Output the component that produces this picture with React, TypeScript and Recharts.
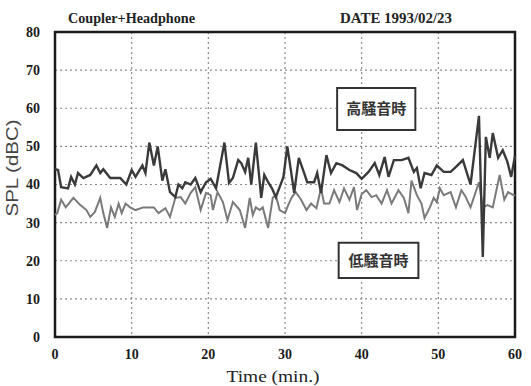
import React from 'react';
import { LineChart, Line, XAxis, YAxis, CartesianGrid, ReferenceArea } from 'recharts';

// High-noise condition (dark line): time (min) and SPL (dBC)
const highTime = [0, 0.4, 0.8, 1.7, 2.1, 2.6, 3.0, 3.7, 4.6, 5.4, 5.9, 6.3, 7.2, 8.5, 9.3, 10.0, 10.5, 11.4, 11.8, 12.3, 12.9, 13.4, 14.0, 14.4, 15.0, 15.7, 16.1, 16.6, 17.0, 17.7, 18.3, 19.0, 19.7, 20.3, 21.0, 22.1, 22.7, 23.2, 23.9, 24.3, 24.8, 25.2, 25.6, 26.2, 26.9, 27.3, 27.8, 28.3, 28.8, 29.3, 29.8, 30.3, 30.6, 31.2, 31.8, 32.5, 32.9, 33.8, 34.2, 34.7, 35.4, 36.0, 36.7, 37.5, 38.4, 39.3, 40.0, 40.9, 41.7, 42.3, 43.0, 43.5, 44.2, 45.2, 46.1, 46.8, 47.2, 47.7, 48.2, 49.1, 49.8, 50.7, 51.6, 52.3, 53.2, 54.2, 55.3, 55.8, 56.2, 56.7, 57.1, 57.8, 58.4, 59.0, 59.5, 60.0];
const highSpl = [44, 43.8, 39.3, 39, 42, 40, 43, 41.7, 42.5, 45, 43, 44, 41.7, 41.7, 40, 43.8, 42, 45, 43, 51, 45, 50, 41, 44, 38, 36.7, 40, 39, 40.6, 40, 41.7, 38, 40.6, 41.5, 39, 51, 40.4, 41.7, 46.4, 45.6, 43.3, 47, 40, 51, 36.5, 42.5, 40.6, 39, 36.7, 39.3, 42, 50, 46, 37.8, 47, 43, 40.6, 40.6, 43, 37.8, 47.7, 43, 45.6, 45, 43.8, 43, 41.5, 43.3, 45.6, 42.5, 47.2, 42, 46.4, 46.4, 47, 43.3, 44.3, 39, 43, 42.5, 45, 43.3, 43.3, 44.6, 46.4, 40, 58, 21, 52.5, 47, 53.5, 47, 49, 46, 42, 47.5];

// Low-noise condition (grey line)
const lowTime = [0, 0.3, 0.8, 1.4, 2.4, 3.3, 4.1, 4.6, 5.2, 5.9, 6.3, 6.8, 7.3, 7.8, 8.3, 8.7, 9.2, 9.8, 10.5, 11.5, 12.9, 13.5, 14.4, 15.0, 15.7, 16.4, 17.0, 17.7, 18.3, 19.0, 19.7, 20.3, 20.6, 21.2, 21.9, 22.5, 23.2, 24.1, 24.8, 25.4, 25.8, 26.2, 26.7, 27.1, 27.8, 28.4, 28.8, 29.3, 30.0, 30.5, 30.9, 31.4, 32.1, 32.8, 33.4, 34.1, 34.7, 35.1, 35.8, 36.4, 37.1, 37.7, 38.4, 39.0, 39.4, 40.0, 40.6, 41.3, 41.9, 42.6, 43.3, 43.9, 44.8, 45.5, 46.1, 46.5, 47.2, 47.8, 48.2, 48.9, 49.4, 49.8, 50.2, 50.7, 51.6, 52.3, 53.0, 53.5, 54.2, 55.3, 55.8, 56.4, 57.1, 58.0, 58.6, 59.1, 60.0];
const lowSpl = [32, 32.5, 36, 34, 36.5, 34.6, 33.3, 31.5, 32.8, 36.5, 32.5, 28.6, 34, 31.5, 35, 32.5, 35, 34, 33.3, 34, 34, 32.5, 33.8, 31.5, 36.5, 36.7, 35, 37.8, 39.3, 33.3, 37.8, 37.2, 33.3, 38, 35.4, 30.7, 35.4, 33.3, 28.6, 36.5, 32, 34, 33.3, 34, 28.6, 36.5, 37.2, 33.3, 32.5, 35, 36.7, 38, 36, 33.3, 35, 33.8, 39, 35, 35, 38.5, 35.4, 39, 36, 39.3, 33.3, 37.5, 38.5, 36.7, 37.2, 35, 38.5, 35, 38.5, 36.5, 32.5, 41, 37.2, 35, 31.2, 34, 36.5, 35.4, 39, 37.2, 38, 34, 38.5, 37, 34, 40.6, 34, 34.6, 34, 42.5, 36, 38, 37];

const xTicks = [0, 10, 20, 30, 40, 50, 60];
const yTicks = [0, 10, 20, 30, 40, 50, 60, 70, 80];
const gridX = [10, 20, 30, 40, 50];
const gridY = [10, 20, 30, 40, 50, 60, 70];

const titleLeft = 'Coupler+Headphone';
const titleRight = 'DATE 1993/02/23';
const xLabel = 'Time (min.)';
const yLabel = 'SPL (dBC)';
const highLabel = '高騒音時';
const lowLabel = '低騒音時';
// annotation boxes in data units: [x1, x2, y1, y2]
const highBox = [36.8, 47.0, 54.3, 65.3];
const lowBox = [37.0, 47.4, 15.5, 24.7];

const highData = highTime.map((t, i) => ({ t, spl: highSpl[i] }));
const lowData = lowTime.map((t, i) => ({ t, spl: lowSpl[i] }));

const serif = '"Liberation Serif", "DejaVu Serif", serif';
const cjk = '"Noto Sans CJK JP", "Noto Sans CJK SC", sans-serif';

export default function App() {
  return (
    <div style={{ position: 'absolute', left: 0, top: 0, width: 531, height: 386, background: '#fff' }}>
      <LineChart width={531} height={386} data={highData} margin={{ top: 32, right: 16, bottom: 0, left: 0 }}>
        <CartesianGrid
          stroke="#8a8a8a"
          strokeDasharray="2 3"
          strokeWidth={1.2}
          horizontalValues={gridY}
          verticalValues={gridX}
        />
        <XAxis
          dataKey="t"
          type="number"
          domain={[0, 60]}
          ticks={xTicks}
          height={49}
          axisLine={false}
          tickLine={false}
          tickMargin={6}
          tick={{ fill: '#1a1a1a', fontSize: 14, fontFamily: serif, fontWeight: 'bold' }}
          interval={0}
        />
        <YAxis
          type="number"
          domain={[0, 80]}
          ticks={yTicks}
          width={55}
          axisLine={false}
          tickLine={false}
          tickMargin={9}
          tick={{ fill: '#1a1a1a', fontSize: 14, fontFamily: serif, fontWeight: 'bold' }}
          interval={0}
        />
        <Line
          data={lowData}
          dataKey="spl"
          type="linear"
          stroke="#7a7a7a"
          strokeWidth={2}
          dot={false}
          isAnimationActive={false}
        />
        <Line
          data={highData}
          dataKey="spl"
          type="linear"
          stroke="#3a3a3a"
          strokeWidth={2.4}
          dot={false}
          isAnimationActive={false}
        />
        <ReferenceArea
          x1={highBox[0]}
          x2={highBox[1]}
          y1={highBox[2]}
          y2={highBox[3]}
          fill="#fff"
          fillOpacity={1}
          stroke="#333"
          strokeWidth={2}
          label={{ value: highLabel, position: 'center', fill: '#333', fontSize: 15, fontFamily: cjk, fontWeight: 'bold' }}
        />
        <ReferenceArea
          x1={lowBox[0]}
          x2={lowBox[1]}
          y1={lowBox[2]}
          y2={lowBox[3]}
          fill="#fff"
          fillOpacity={1}
          stroke="#333"
          strokeWidth={2}
          label={{ value: lowLabel, position: 'center', fill: '#333', fontSize: 15, fontFamily: cjk, fontWeight: 'bold' }}
        />
        <ReferenceArea
          x1={0}
          x2={60}
          y1={0}
          y2={80}
          fill="none"
          stroke="#1a1a1a"
          strokeWidth={2.5}
        />
        <text x={68} y={23} fontFamily={serif} fontSize={14} fontWeight="bold" fill="#222" textLength={127} lengthAdjust="spacingAndGlyphs">{titleLeft}</text>
        <text x={340} y={23} fontFamily={serif} fontSize={14} fontWeight="bold" fill="#222" textLength={112} lengthAdjust="spacingAndGlyphs">{titleRight}</text>
        <text x={273} y={382} textAnchor="middle" fontFamily={serif} fontSize={16} fill="#222" textLength={93} lengthAdjust="spacingAndGlyphs">{xLabel}</text>
        <text x={18} y={168} textAnchor="middle" transform="rotate(-90 18 168)" fontFamily='"Liberation Sans", Arial, sans-serif' fontSize={16} fill="#444" textLength={97} lengthAdjust="spacingAndGlyphs">{yLabel}</text>
      </LineChart>
    </div>
  );
}
